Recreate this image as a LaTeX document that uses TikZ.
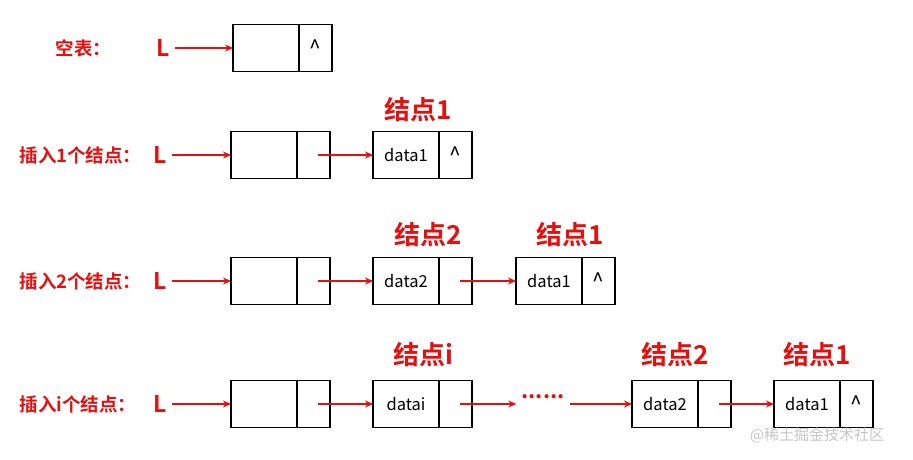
\documentclass[tikz,border=0pt]{standalone}
\usepackage{fontspec}
\setmainfont{Noto Sans CJK SC}[BoldFont=* Bold]
\usetikzlibrary{positioning,arrows.meta}

\definecolor{linkred}{RGB}{228,16,16}

\newcommand{\rowEmptyY}{48}
\newcommand{\rowOneY}{155}
\newcommand{\rowTwoY}{281}
\newcommand{\rowIY}{404}
\newcommand{\headX}{264}
\newcommand{\colAX}{406}
\newcommand{\colBX}{549}
\newcommand{\colCX}{665}
\newcommand{\colDX}{807}
\newcommand{\nilMark}{{\fontsize{21}{21}\selectfont\textasciicircum}}

\begin{document}
\begin{tikzpicture}[x=1pt,y=-1pt,
    datacell/.style={draw, line width=1.9pt, minimum width=66pt, minimum height=47pt,
        inner sep=0pt, outer sep=0pt, font=\fontsize{16.5}{16.5}\selectfont},
    ptrcell/.style={datacell, minimum width=33pt},
    rowlbl/.style={text=linkred, font=\bfseries\fontsize{18.5}{18.5}\selectfont, anchor=west},
    headlbl/.style={text=linkred, font=\bfseries\fontsize{23}{23}\selectfont, inner sep=5pt},
    nodelbl/.style={text=linkred, font=\bfseries\fontsize{26}{26}\selectfont},
    link/.style={draw=linkred, line width=1.3pt, -{Stealth[length=8pt,width=7pt]}}]
    \useasboundingbox (0,0) rectangle (913,459);

    % Empty list
    \node[rowlbl] (emptylbl) at (52,\rowEmptyY) {空表：};
    \node[headlbl] (emptyL) at (163,\rowEmptyY) {L};
    \node[datacell] (emptyhd) at (\headX+2,\rowEmptyY) {};
    \node[ptrcell, right=0pt of emptyhd] (emptyhp) {\nilMark};
    \draw[link] (emptyL) -- (emptyhd.west);

    % One node
    \node[rowlbl] (onelbl) at (16,\rowOneY) {插入1个结点：};
    \node[headlbl] (oneL) at (160,\rowOneY) {L};
    \node[datacell] (onehd) at (\headX,\rowOneY) {};
    \node[ptrcell, right=0pt of onehd] (onehp) {};
    \node[datacell] (oneAd) at (\colAX,\rowOneY) {data1};
    \node[ptrcell, right=0pt of oneAd] (oneAp) {\nilMark};
    \node[nodelbl] (oneAlbl) at (418,\rowOneY-45) {结点1};
    \draw[link] (oneL) -- (onehd.west);
    \draw[link, shorten <=4pt] (onehp.center) -- (oneAd.west);

    % Two nodes
    \node[rowlbl] (twolbl) at (16,\rowTwoY) {插入2个结点：};
    \node[headlbl] (twoL) at (160,\rowTwoY) {L};
    \node[datacell] (twohd) at (\headX,\rowTwoY) {};
    \node[ptrcell, right=0pt of twohd] (twohp) {};
    \node[datacell] (twoAd) at (\colAX,\rowTwoY) {data2};
    \node[ptrcell, right=0pt of twoAd] (twoAp) {};
    \node[datacell] (twoBd) at (\colBX,\rowTwoY) {data1};
    \node[ptrcell, right=0pt of twoBd] (twoBp) {\nilMark};
    \node[nodelbl] (twoAlbl) at (428,\rowTwoY-46) {结点2};
    \node[nodelbl] (twoBlbl) at (570,\rowTwoY-46) {结点1};
    \draw[link] (twoL) -- (twohd.west);
    \draw[link, shorten <=4pt] (twohp.center) -- (twoAd.west);
    \draw[link, shorten <=4pt] (twoAp.center) -- (twoBd.west);

    % i nodes
    \node[rowlbl] (ilbl) at (16,\rowIY) {插入i个结点：};
    \node[headlbl] (iL) at (160,\rowIY) {L};
    \node[datacell] (ihd) at (\headX,\rowIY) {};
    \node[ptrcell, right=0pt of ihd] (ihp) {};
    \node[datacell] (iAd) at (\colAX,\rowIY) {datai};
    \node[ptrcell, right=0pt of iAd] (iAp) {};
    \node[text=linkred, font=\bfseries\fontsize{22}{22}\selectfont, inner sep=5pt] (idots) at (543,\rowIY-7) {......};
    \node[datacell] (iCd) at (\colCX,\rowIY) {data2};
    \node[ptrcell, right=0pt of iCd] (iCp) {};
    \node[datacell] (iDd) at (\colDX,\rowIY) {data1};
    \node[ptrcell, right=0pt of iDd] (iDp) {\nilMark};
    \node[nodelbl] (iAlbl) at (423,\rowIY-49) {结点i};
    \node[nodelbl] (iClbl) at (675,\rowIY-49) {结点2};
    \node[nodelbl] (iDlbl) at (817,\rowIY-49) {结点1};
    \draw[link] (iL) -- (ihd.west);
    \draw[link, shorten <=4pt] (ihp.center) -- (iAd.west);
    \draw[link, shorten <=4pt] (iAp.center) -- (idots.west |- iAp.center);
    \draw[link] (idots.east |- iCd.west) -- (iCd.west);
    \draw[link, shorten <=4pt] (iCp.center) -- (iDd.west);

    % watermark
    \node[text=gray!45, font=\fontsize{15}{15}\selectfont] (mark) at (817,435) {@稀土掘金技术社区};
\end{tikzpicture}
\end{document}
